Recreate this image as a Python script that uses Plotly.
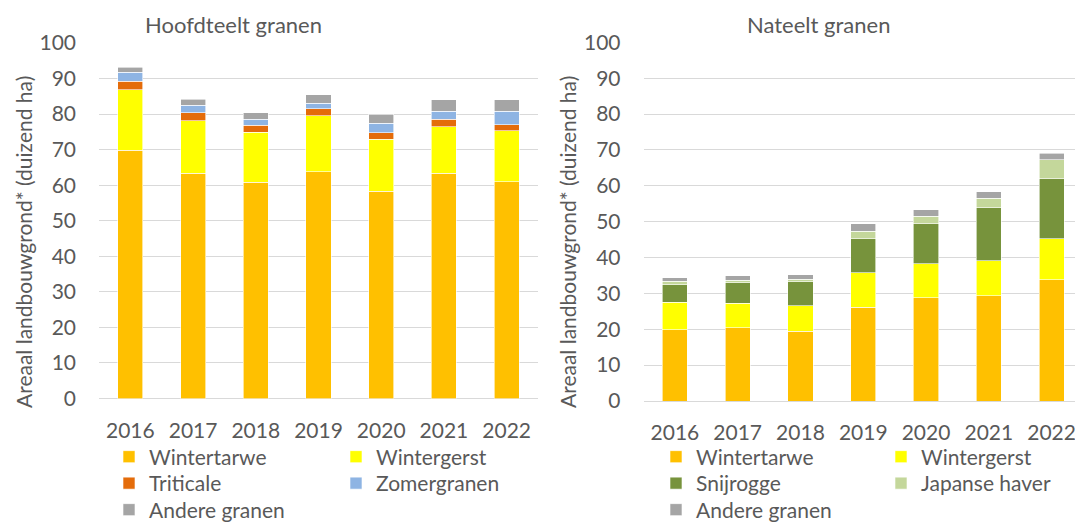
import plotly.graph_objects as go

years = ["2016", "2017", "2018", "2019", "2020", "2021", "2022"]

# Hoofdteelt granen (duizend ha)
hoofd_wintertarwe = [69.8, 63.3, 60.8, 63.8, 58.3, 63.3, 61.0]
hoofd_wintergerst = [17.0, 14.8, 14.1, 15.7, 14.6, 13.1, 14.3]
hoofd_triticale = [2.4, 2.3, 1.9, 2.0, 1.8, 2.2, 1.7]
hoofd_zomergranen = [2.6, 2.1, 1.7, 1.6, 2.7, 2.2, 3.8]
hoofd_andere = [1.4, 1.7, 1.9, 2.4, 2.5, 3.2, 3.2]

# Nateelt granen (duizend ha)
na_wintertarwe = [19.9, 20.4, 19.5, 26.2, 28.8, 29.4, 33.8]
na_wintergerst = [7.7, 6.9, 7.1, 9.6, 9.4, 9.7, 11.5]
na_snijrogge = [4.8, 5.6, 6.6, 9.4, 11.2, 14.8, 16.6]
na_japanse_haver = [1.0, 0.8, 0.7, 2.1, 2.1, 2.6, 5.4]
na_andere = [0.9, 1.2, 1.3, 2.1, 1.8, 1.8, 1.8]

# The page body has an 8px margin, so the figure starts at (8, 8) in the window.
OFF = 8
W, H = 1083 - OFF, 522 - OFF
FONT = "Lato"
TXT = "#595959"
GRID = "#D9D9D9"

C_WT = "#FFC000"
C_WG = "#FFFF00"
C_TRI = "#E46C0A"
C_ZOM = "#8EB4E3"
C_AND = "#A5A5A5"
C_SNIJ = "#77933C"
C_JAP = "#C4D79B"


def px_x(p):
    return (p - OFF) / W


def px_y(p):
    return 1 - (p - OFF) / H


ROWS = [457, 483.5, 510]
LCOL = [109, 336]
RCOL = [656, 881]

left_series = [
    ("Wintertarwe", hoofd_wintertarwe, C_WT, LCOL[0], ROWS[0]),
    ("Wintergerst", hoofd_wintergerst, C_WG, LCOL[1], ROWS[0]),
    ("Triticale", hoofd_triticale, C_TRI, LCOL[0], ROWS[1]),
    ("Zomergranen", hoofd_zomergranen, C_ZOM, LCOL[1], ROWS[1]),
    ("Andere granen", hoofd_andere, C_AND, LCOL[0], ROWS[2]),
]
right_series = [
    ("Wintertarwe", na_wintertarwe, C_WT, RCOL[0], ROWS[0]),
    ("Wintergerst", na_wintergerst, C_WG, RCOL[1], ROWS[0]),
    ("Snijrogge", na_snijrogge, C_SNIJ, RCOL[0], ROWS[1]),
    ("Japanse haver", na_japanse_haver, C_JAP, RCOL[1], ROWS[1]),
    ("Andere granen", na_andere, C_AND, RCOL[0], ROWS[2]),
]

fig = go.Figure()
legends = {}
idx = 0
for series, xa, ya in ((left_series, "x", "y"), (right_series, "x2", "y2")):
    for name, vals, col, lx, ly in series:
        idx += 1
        leg = "legend" if idx == 1 else f"legend{idx}"
        fig.add_trace(go.Bar(
            x=years, y=vals, name=name, showlegend=True,
            marker=dict(color=col, line=dict(color="white", width=0.6)),
            xaxis=xa, yaxis=ya, legend=leg, hoverinfo="name+y",
        ))
        legends[leg] = dict(
            x=px_x(lx), y=px_y(ly), xanchor="left", yanchor="middle",
            orientation="v", traceorder="normal",
            font=dict(family=FONT, size=21, color=TXT),
            bgcolor="rgba(0,0,0,0)", borderwidth=0, itemwidth=30,
            visible=True,
        )

axis_font = dict(family=FONT, size=21, color=TXT)

common_x = dict(
    type="category", range=[-0.5, 6.5], showgrid=False, zeroline=False,
    showline=False, ticks="", tickfont=axis_font, ticklabelstandoff=17,
    automargin=False,
)
common_y = dict(
    range=[0, 100], dtick=10, showgrid=True, gridcolor=GRID, gridwidth=1,
    zeroline=True, zerolinecolor=GRID, zerolinewidth=1, showline=False,
    ticks="", tickfont=axis_font, ticklabelstandoff=22, automargin=False,
)

fig.update_layout(
    width=W, height=H,
    margin=dict(l=0, r=0, t=0, b=0, autoexpand=False),
    paper_bgcolor="white", plot_bgcolor="white",
    showlegend=True,
    barmode="stack", bargap=0.6,
    font=dict(family=FONT, color=TXT),
    xaxis=dict(domain=[px_x(99), px_x(538)], anchor="y", **common_x),
    yaxis=dict(domain=[px_y(398.5), px_y(43)], anchor="x", **common_y),
    xaxis2=dict(domain=[px_x(643.5), 1.0], anchor="y2", **common_x),
    yaxis2=dict(domain=[px_y(401), px_y(42.3)], anchor="x2", **common_y),
    annotations=[
        dict(text="Hoofdteelt granen", x=px_x(233), y=px_y(24), xref="paper", yref="paper",
             xanchor="center", yanchor="middle", showarrow=False,
             font=dict(family=FONT, size=22, color=TXT)),
        dict(text="Nateelt granen", x=px_x(818), y=px_y(24), xref="paper", yref="paper",
             xanchor="center", yanchor="middle", showarrow=False,
             font=dict(family=FONT, size=22, color=TXT)),
        dict(text="Areaal landbouwgrond* (duizend ha)", x=px_x(24), y=px_y(242),
             xref="paper", yref="paper", xanchor="center", yanchor="middle",
             textangle=-90, showarrow=False, font=dict(family=FONT, size=21, color=TXT)),
        dict(text="Areaal landbouwgrond* (duizend ha)", x=px_x(568), y=px_y(242),
             xref="paper", yref="paper", xanchor="center", yanchor="middle",
             textangle=-90, showarrow=False, font=dict(family=FONT, size=21, color=TXT)),
    ],
    **legends,
)

fig.write_html("out.html")
